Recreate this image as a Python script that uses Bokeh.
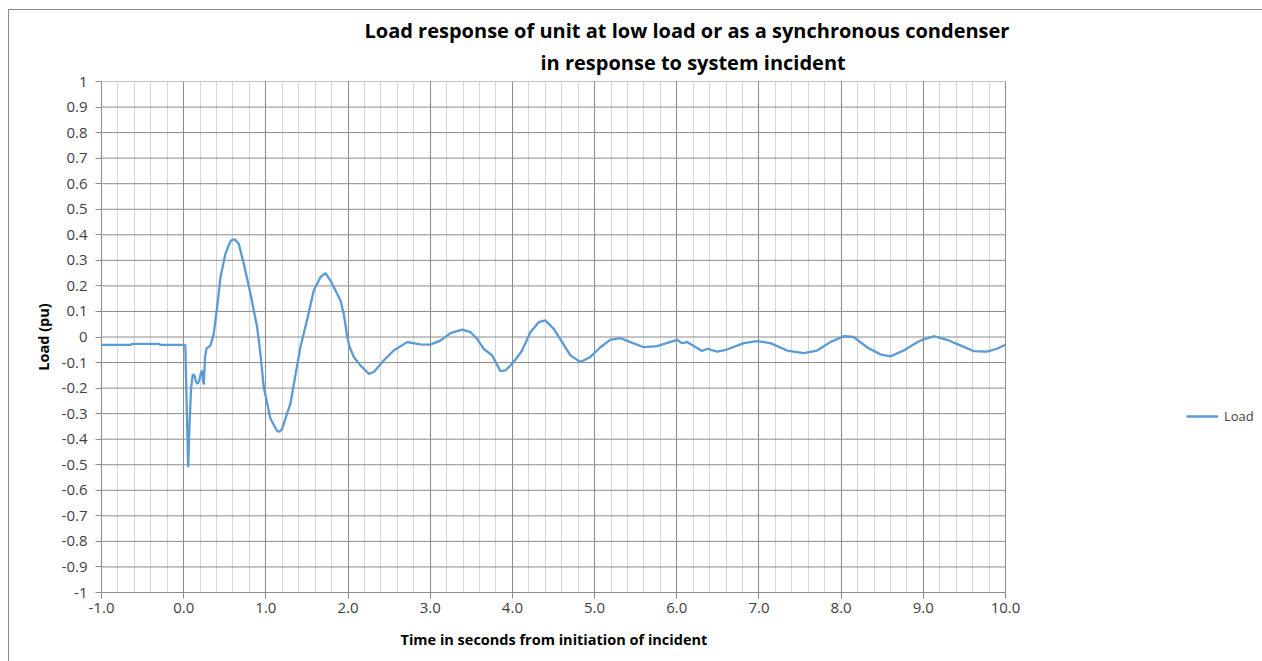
from bokeh.plotting import figure
from bokeh.models import (FixedTicker, PrintfTickFormatter, CustomJSTickFormatter,
                          Title, Legend, LegendItem, Range1d)
from bokeh.embed import file_html
from bokeh.resources import INLINE

# ---- data ----
time_s = [-1.0, -0.65, -0.63, -0.30, -0.28, 0.02, 0.035, 0.055, 0.07, 0.09, 0.11, 0.13,
          0.15, 0.17, 0.19, 0.21, 0.225, 0.235, 0.245, 0.26, 0.277, 0.30, 0.326, 0.366,
          0.407, 0.448, 0.508, 0.569, 0.60, 0.63, 0.67, 0.731, 0.813, 0.894, 0.934,
          0.974, 1.056, 1.137, 1.17, 1.198, 1.299, 1.42, 1.50, 1.583, 1.664, 1.725,
          1.786, 1.867, 1.908, 1.948, 1.99, 2.02, 2.07, 2.15, 2.252, 2.313, 2.434,
          2.556, 2.719, 2.88, 3.0, 3.124, 3.246, 3.388, 3.489, 3.57, 3.65, 3.753,
          3.854, 3.915, 4.016, 4.118, 4.219, 4.32, 4.40, 4.503, 4.605, 4.706, 4.827,
          4.95, 5.07, 5.19, 5.31, 5.436, 5.597, 5.76, 6.003, 6.06, 6.125, 6.308,
          6.376, 6.49, 6.612, 6.814, 6.977, 7.14, 7.342, 7.545, 7.707, 7.869, 8.03,
          8.152, 8.315, 8.477, 8.6, 8.76, 8.963, 9.125, 9.288, 9.45, 9.61, 9.775,
          9.897, 10.0]
load_pu = [-0.031, -0.031, -0.027, -0.027, -0.031, -0.031, -0.25, -0.51, -0.35, -0.20,
           -0.147, -0.15, -0.175, -0.183, -0.17, -0.14, -0.131, -0.17, -0.186, -0.08,
           -0.046, -0.04, -0.033, 0.013, 0.117, 0.234, 0.326, 0.375, 0.382, 0.38, 0.365,
           0.287, 0.169, 0.038, -0.066, -0.196, -0.32, -0.368, -0.37, -0.36, -0.26,
           -0.04, 0.065, 0.182, 0.234, 0.25, 0.221, 0.169, 0.143, 0.091, 0.0, -0.04,
           -0.078, -0.111, -0.144, -0.137, -0.092, -0.053, -0.02, -0.029, -0.03,
           -0.014, 0.015, 0.029, 0.019, -0.007, -0.046, -0.072, -0.134, -0.131,
           -0.098, -0.053, 0.019, 0.058, 0.065, 0.032, -0.02, -0.072, -0.098, -0.078,
           -0.04, -0.011, -0.004, -0.02, -0.04, -0.036, -0.011, -0.024, -0.02, -0.055,
           -0.046, -0.057, -0.049, -0.024, -0.016, -0.024, -0.053, -0.063, -0.053,
           -0.02, 0.003, 0.0, -0.04, -0.068, -0.076, -0.053, -0.014, 0.003, -0.011,
           -0.033, -0.055, -0.057, -0.046, -0.03]

x_major_ticks = [-1, 0, 1, 2, 3, 4, 5, 6, 7, 8, 9, 10]
x_minor_ticks = [round(-1 + 0.2 * i, 1) for i in range(56)]
y_ticks = [round(-1 + 0.1 * i, 1) for i in range(21)]

title_line1 = "Load response of unit at low load or as a synchronous condenser"
title_line2 = "in response to system incident"
x_label = "Time in seconds from initiation of incident"
y_label = "Load (pu)"
series_name = "Load"

FONT = "Open Sans"
GRID_DARK = "#8c8c8c"
GRID_LIGHT = "#d6d6d6"

# the plotted area spans x = -1..10 over 904 px; the frame is extended to the
# right (without grid/axis there) so that the legend can sit in empty space
X_MIN, X_MAX = x_major_ticks[0], x_major_ticks[-1]
DATA_W = 904
FRAME_W = 1160
x_end = X_MIN + (X_MAX - X_MIN) * FRAME_W / DATA_W

p = figure(width=1253, height=650, output_backend="svg", toolbar_location=None,
           x_range=Range1d(X_MIN, x_end), y_range=Range1d(-1, 1),
           min_border_left=92, min_border_right=1, min_border_top=71,
           min_border_bottom=20)
p.frame_width = FRAME_W
p.frame_height = 511
p.outline_line_color = None
p.styles = {"margin-top": "9px", "margin-left": "8px",
            "border-top": "1px solid #8c8c8c", "border-left": "1px solid #8c8c8c"}

# titles (bottom line added first, so it sits closest to the frame)
t2 = Title(text=title_line2, align="left", offset=439, text_font=FONT,
           text_font_size="20px", text_font_style="bold", text_color="#000000",
           vertical_align="middle", standoff=9)
t1 = Title(text=title_line1, align="left", offset=263, text_font=FONT,
           text_font_size="20px", text_font_style="bold", text_color="#000000",
           standoff=0)
p.add_layout(t2, "above")
p.add_layout(t1, "above")

# horizontal grid lines, limited to the data span
p.ygrid.visible = False
p.segment(x0=[X_MIN] * len(y_ticks), y0=y_ticks, x1=[X_MAX] * len(y_ticks),
          y1=y_ticks, line_color=GRID_DARK, line_width=1)

r = p.line(time_s, load_pu, line_color="#5B9BD5", line_width=2.3)

# vertical grid lines
p.xgrid.ticker = FixedTicker(ticks=x_major_ticks, minor_ticks=x_minor_ticks)
p.xgrid.bounds = (X_MIN, X_MAX)
p.xgrid.grid_line_color = GRID_DARK
p.xgrid.minor_grid_line_color = GRID_LIGHT
p.xgrid.level = "underlay"

# axes
xa = p.xaxis[0]
xa.ticker = FixedTicker(ticks=x_major_ticks)
xa.formatter = PrintfTickFormatter(format="%.1f")
xa.bounds = (X_MIN, X_MAX)
ya = p.yaxis[0]
ya.ticker = FixedTicker(ticks=y_ticks)
ya.formatter = CustomJSTickFormatter(code="return Number(tick.toFixed(1)).toString();")
ya.axis_label = y_label
for ax in (xa, ya):
    ax.axis_line_color = GRID_DARK
    ax.major_tick_line_color = GRID_DARK
    ax.minor_tick_line_color = None
    ax.major_tick_in = 0
    ax.major_tick_out = 6
    ax.major_label_text_font = FONT
    ax.major_label_text_font_size = "15px"
    ax.major_label_text_color = "#404040"
    ax.axis_label_text_font = FONT
    ax.axis_label_text_font_size = "14.5px"
    ax.axis_label_text_font_style = "bold"
    ax.axis_label_text_color = "#000000"
xa.major_label_standoff = 4
ya.major_label_standoff = 8
ya.axis_label_standoff = 6

# x-axis title, under the data span
xt = Title(text=x_label, align="left", offset=299, text_font=FONT,
           text_font_size="14.5px", text_font_style="bold", text_color="#000000",
           vertical_align="top", standoff=29)
p.add_layout(xt, "below")

legend = Legend(items=[LegendItem(label=series_name, renderers=[r])],
                location=(1085, 166), border_line_color=None,
                background_fill_alpha=0, padding=5, margin=0,
                glyph_width=32, label_standoff=6,
                label_text_font=FONT, label_text_font_size="13px",
                label_text_color="#404040")
p.add_layout(legend, "center")

open("out.html", "w").write(file_html(p, INLINE))
